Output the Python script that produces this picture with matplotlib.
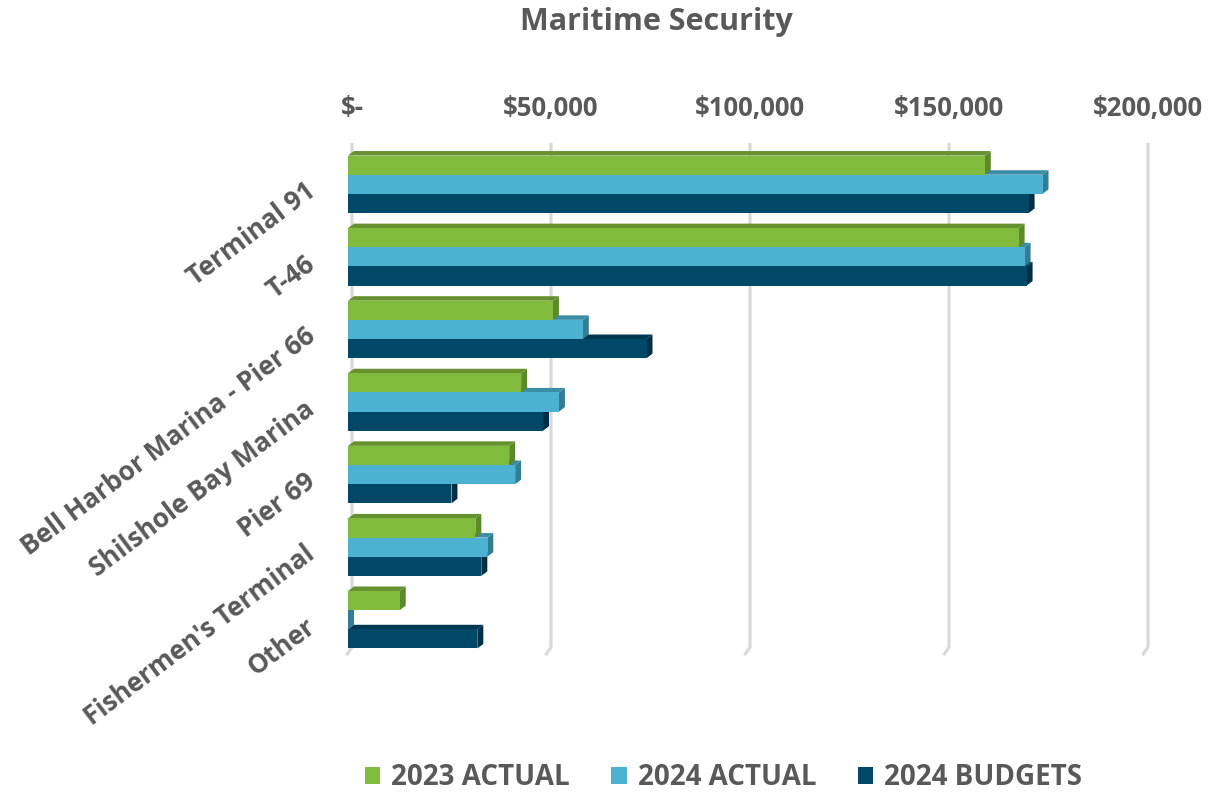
import matplotlib
matplotlib.use("Agg")
import matplotlib.pyplot as plt
import matplotlib.transforms as mtransforms
from matplotlib.patches import Polygon, Patch

categories = ["Terminal 91", "T-46", "Bell Harbor Marina - Pier 66",
              "Shilshole Bay Marina", "Pier 69", "Fishermen's Terminal", "Other"]
series_names = ["2023 ACTUAL", "2024 ACTUAL", "2024 BUDGETS"]
actual_2023 = [160000, 168500, 51500, 43500, 40500, 32000, 13000]
actual_2024 = [174500, 170000, 59000, 53000, 42000, 35000, 0]
budget_2024 = [171000, 170500, 75000, 49000, 26000, 33500, 32500]
ticks = [0, 50000, 100000, 150000, 200000]
tick_labels = ["$-", "$50,000", "$100,000", "$150,000", "$200,000"]

# front, top, side colours per series
faces = [
    ("#80BB3D", "#65922F", "#5C8A2B"),
    ("#4DB1D1", "#3B8CA6", "#337D94"),
    ("#004868", "#003852", "#002E44"),
]
text_color = "#595959"
font = ["Open Sans", "DejaVu Sans"]

plt.rcParams["font.family"] = font

fig = plt.figure(figsize=(12.14, 7.95), dpi=100)
ax = fig.add_axes([348 / 1214, 139 / 795, 800 / 1214, 508 / 795])

values = [actual_2023, actual_2024, budget_2024]
h = 0.264
dx = 1500
dy = -0.062

# back-wall gridlines with slanted floor foot
for t in ticks:
    ax.plot([t + 1000, t + 1000, t - 400], [-0.57, 6.38, 6.49],
            color="#D9D9D9", lw=2.3, zorder=0, clip_on=False,
            solid_capstyle="butt")

# draw bottom series first so upper bars hide the top faces below
for j in [2, 1, 0]:
    front, top, side = faces[j]
    for i, v in enumerate(values[j]):
        yc = i + (j - 1) * h
        y0, y1 = yc - h / 2, yc + h / 2
        z = 10 - j
        ax.add_patch(Polygon([(v, y0), (v, y1), (v + dx, y1 + dy), (v + dx, y0 + dy)],
                             closed=True, fc=side, ec="none", zorder=z))
        ax.add_patch(Polygon([(0, y0), (v, y0), (v + dx, y0 + dy), (dx, y0 + dy)],
                             closed=True, fc=top, ec="none", zorder=z))
        if v > 0:
            ax.barh(yc, v, height=h, color=front, zorder=z + 0.5, linewidth=0)

ax.set_xlim(0, 200000)
ax.set_ylim(6.5, -0.5)

ax.xaxis.tick_top()
ax.set_xticks([t + 1000 for t in ticks])
ax.set_xticklabels(tick_labels, fontsize=18.5, fontweight="bold", color=text_color)
ax.tick_params(axis="x", length=0, pad=19)

ax.set_yticks([])
shift = mtransforms.ScaledTranslation(-36 / 100, -4 / 100, fig.dpi_scale_trans)
for i, name in enumerate(categories):
    ax.text(0, i, name, transform=ax.transData + shift,
            fontsize=19, fontweight="bold", color=text_color,
            rotation=37, ha="right", va="center", rotation_mode="anchor")

for s in ax.spines.values():
    s.set_visible(False)

fig.text(0.541, 0.972, "Maritime Security", ha="center", va="center",
         fontsize=22, fontweight="bold", color=text_color)

handles = [Patch(facecolor=faces[j][0], edgecolor="none") for j in range(3)]
fig.legend(handles, series_names, loc="center", bbox_to_anchor=(0.596, 0.022),
           ncol=3, frameon=False, handlelength=0.55, handleheight=0.55,
           handletextpad=0.4, columnspacing=1.5,
           prop={"family": font, "weight": "bold", "size": 20})
for txt in fig.legends[0].get_texts():
    txt.set_color(text_color)

fig.savefig("out.png", dpi=100)
